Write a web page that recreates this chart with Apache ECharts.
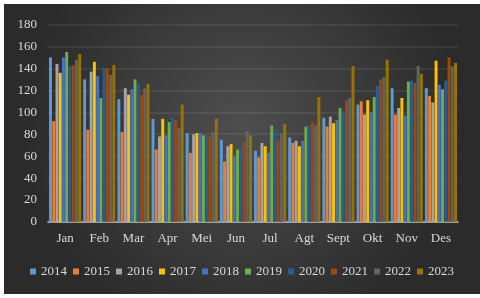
<!DOCTYPE html>
<html>
<head>
<meta charset="utf-8">
<script src="https://cdn.jsdelivr.net/npm/echarts@6/dist/echarts.min.js"></script>
<style>
html,body{margin:0;padding:0;background:#ffffff;width:480px;height:298px;overflow:hidden;}
#chart{position:absolute;left:4px;top:4px;width:476px;height:290px;}
</style>
</head>
<body>
<div id="chart"></div>
<script>
const months = ['Jan','Feb','Mar','Apr','Mei','Jun','Jul','Agt','Sept','Okt','Nov','Des'];
const years = ['2014','2015','2016','2017','2018','2019','2020','2021','2022','2023'];
const y2014 = [150,130,112,94,81,75,65,77,95,107,122,122];
const y2015 = [92,84,82,66,63,55,59,72,87,110,98,115];
const y2016 = [144,137,122,78,80,69,72,74,96,98,104,109];
const y2017 = [136,146,116,94,81,71,69,69,90,111,113,147];
const y2018 = [150,133,121,79,81,60,63,74,93,100,97,125];
const y2019 = [155,113,130,91,79,66,88,87,104,114,128,121];
const y2020 = [142,140,126,95,78,69,84,88,101,124,129,129];
const y2021 = [143,140,116,93,78,73,74,91,111,130,127,150];
const y2022 = [148,134,122,86,82,83,81,88,113,132,142,142];
const y2023 = [153,143,126,107,94,79,89,114,142,148,135,145];
const yTicks = [0,20,40,60,80,100,120,140,160,180];

const seriesValues = [y2014,y2015,y2016,y2017,y2018,y2019,y2020,y2021,y2022,y2023];
const colors = ['#5B9BD5','#ED7D31','#A5A5A5','#FFC000','#4472C4','#70AD47','#255E91','#9E480E','#636363','#997300'];
const font = "'Liberation Serif', 'Times New Roman', serif";

const chart = echarts.init(document.getElementById('chart'));
chart.setOption({
  animation: false,
  backgroundColor: {
    type: 'radial', x: 0.5, y: 0.42, r: 0.75,
    colorStops: [{offset: 0, color: '#4e4e4e'}, {offset: 1, color: '#2b2b2b'}]
  },
  color: colors,
  grid: {left: 44, right: 22, top: 20.5, bottom: 72},
  legend: {
    data: years,
    bottom: 11,
    left: 'center',
    itemWidth: 6,
    itemHeight: 6,
    itemGap: 6,
    icon: 'rect',
    textStyle: {color: '#d9d9d9', fontFamily: font, fontSize: 13}
  },
  xAxis: {
    type: 'category',
    data: months,
    axisLine: {lineStyle: {color: '#bfbfbf', width: 1.5}},
    axisTick: {show: false},
    axisLabel: {color: '#d9d9d9', fontFamily: font, fontSize: 13, margin: 10}
  },
  yAxis: {
    type: 'value',
    min: yTicks[0], max: yTicks[yTicks.length - 1], interval: 20,
    axisLine: {show: false},
    axisTick: {show: false},
    axisLabel: {color: '#d9d9d9', fontFamily: font, fontSize: 13, margin: 11},
    splitLine: {lineStyle: {color: 'rgba(255,255,255,0.09)', width: 1.5}}
  },
  series: years.map((y, i) => ({
    name: y,
    type: 'bar',
    data: seriesValues[i],
    barGap: '10%',
    barCategoryGap: '6%',
    itemStyle: {color: colors[i]}
  }))
});
</script>
</body>
</html>
